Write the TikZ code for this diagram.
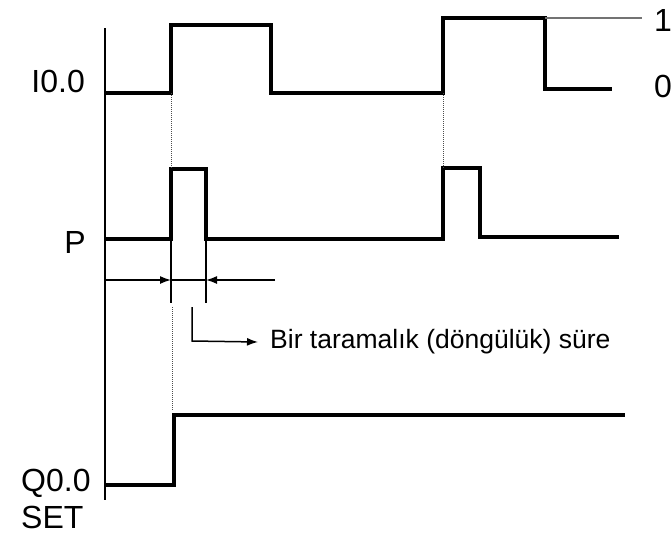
\documentclass[tikz,border=0pt]{standalone}
\usepackage{fontspec}
\setmainfont{Liberation Sans}
\usetikzlibrary{arrows.meta}
\begin{document}
\begin{tikzpicture}[x=1pt,y=-1pt,
  wave/.style={line width=3.2pt,line join=miter},
  axis/.style={line width=2.4pt},
  dim/.style={line width=1.5pt},
  guide/.style={line width=1pt,densely dotted,black!70},
  thin/.style={line width=1.2pt,black!55},
  lbl/.style={font=\fontsize{32}{33}\selectfont,inner sep=0pt},
  note/.style={font=\fontsize{26.5}{28}\selectfont,inner sep=0pt,anchor=west},
  tip/.style={-{Latex[length=11pt,width=8pt]}}]
\useasboundingbox (0,0) rectangle (672,536);
% axis
\coordinate (axT) at (105,28);
\coordinate (axB) at (105,500);
\draw[axis] (axT) -- (axB);
% I0.0
\coordinate (i0) at (105,93);
\coordinate (i1) at (171,93);
\coordinate (i2) at (443,93);
\coordinate (ih2) at (545,18);
\coordinate (iend) at (642,18);
\draw[wave] (i0) -- (i1) -- (171,25) -- (271,25) -- (271,93) -- (i2) -- (443,18) -- (ih2) -- (545,89) -- (612,89);
\draw[thin] (ih2) -- (iend);
% P
\coordinate (p1) at (171,169);
\coordinate (p2) at (443,168);
\draw[wave] (105,239) -- (171,239) -- (p1) -- (206,169) -- (206,239) -- (443,239) -- (p2) -- (480,168) -- (480,237) -- (619,237);
% dotted guides
\draw[guide] (i1) -- (p1);
\draw[guide] (i2) -- (p2);
% dimension
\coordinate (dA) at (105,280);
\coordinate (dL) at (171,280);
\coordinate (dR) at (206,280);
\coordinate (dE) at (275,280);
\coordinate (t1a) at (171,239);
\coordinate (t1b) at (171,303);
\coordinate (t2a) at (206,239);
\coordinate (t2b) at (206,303);
\draw[dim] (t1a) -- (t1b);
\draw[dim] (t2a) -- (t2b);
\draw[dim] (dL) -- (dR);
\draw[dim,tip] (dA) -- (dL);
\draw[dim,tip] (dE) -- (dR);
% bent arrow
\coordinate (b0) at (192,307);
\coordinate (b1) at (192,341);
\node[note] (txt) at (270,342) {Bir taramalık (döngülük) süre};
\draw[dim,tip] (b0) -- (b1) -- ([xshift=-12pt]txt.west);
% Q0.0
\coordinate (q1) at (174,485);
\coordinate (q2) at (174,415);
\draw[guide] (172,307) -- (172,411);
\draw[wave] (105,485) -- (q1) -- (q2) -- (625,415);
% labels
\node[lbl,anchor=east] (lI) at (85,81) {I0.0};
\node[lbl,anchor=east] (lP) at (86,242) {P};
\node[lbl,anchor=west] (lQ) at (21,483) {Q0.0};
\node[lbl,anchor=west] (lS) at (21,517) {SET};
\node[lbl,anchor=east] (l1) at (672,20) {1};
\node[lbl,anchor=east] (l0) at (672,86) {0};
\end{tikzpicture}
\end{document}
